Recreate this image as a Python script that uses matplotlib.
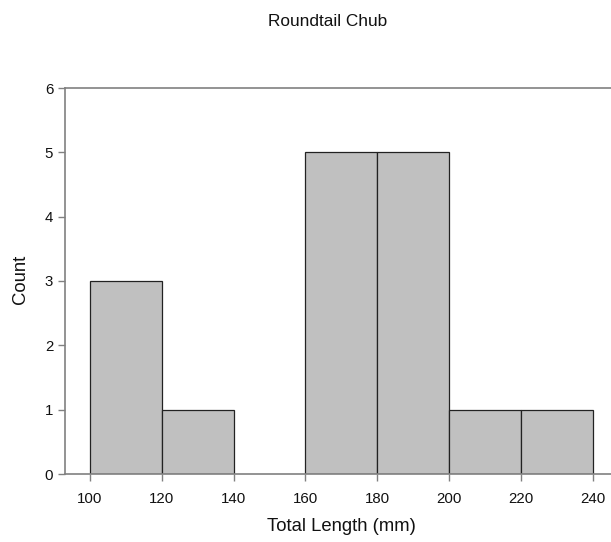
import matplotlib
matplotlib.use("Agg")
import matplotlib.pyplot as plt

plt.rcParams['font.family'] = ['Liberation Sans', 'DejaVu Sans']

bin_edges = [100, 120, 140, 160, 180, 200, 220, 240]
counts = [3, 1, 0, 5, 5, 1, 1]
x_ticks = [100, 120, 140, 160, 180, 200, 220, 240]
y_ticks = [0, 1, 2, 3, 4, 5, 6]

fig = plt.figure(figsize=(6.11, 5.42), dpi=100)
ax = fig.add_axes([65/611, (542-474)/542, 1 - 65/611, (474-88)/542])

lefts = bin_edges[:-1]
widths = [b - a for a, b in zip(bin_edges[:-1], bin_edges[1:])]
for l, w, c in zip(lefts, widths, counts):
    if c > 0:
        ax.bar(l, c, width=w, align='edge', color='#c0c0c0', edgecolor='#222222', linewidth=0.9, zorder=2)

ax.set_xlim(93.05, 245.1)
ax.set_ylim(0, 6)
ax.set_xticks(x_ticks)
ax.set_yticks(y_ticks)
for s in ['left', 'top', 'bottom']:
    ax.spines[s].set_color('#808080')
    ax.spines[s].set_linewidth(1.2)
ax.spines['right'].set_visible(False)
ax.tick_params(axis='both', colors='#808080', labelcolor='#111111', labelsize=10.8, width=1, length=5, direction='out')
ax.tick_params(axis='x', pad=8)

ax.set_xlabel('Total Length (mm)', fontsize=13.3, color='#111111')
ax.xaxis.set_label_coords(0.5055, -0.114)
ax.set_ylabel('Count', fontsize=13.3, color='#111111')
ax.yaxis.set_label_coords(-0.066, 0.503)
fig.text(328/611, 1 - 21/542, 'Roundtail Chub', ha='center', va='center', fontsize=12.4, color='#111111')

fig.savefig('out.png', dpi=100)
